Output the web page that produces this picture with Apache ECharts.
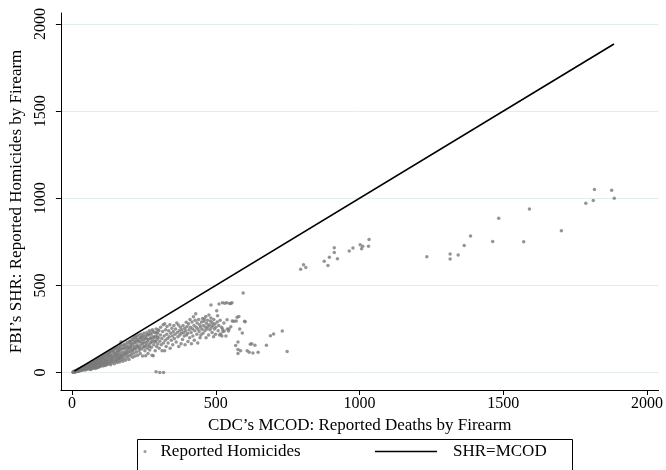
<!DOCTYPE html>
<html>
<head>
<meta charset="utf-8">
<script src="https://cdn.jsdelivr.net/npm/echarts@6/dist/echarts.min.js"></script>
<style>
  html, body { margin: 0; padding: 0; background: #ffffff; }
  #chart { width: 666px; height: 470px; }
</style>
</head>
<body>
<div id="chart"></div>
<script>
// County pairs: [CDC MCOD firearm deaths, FBI SHR firearm homicides]
const smallCounties = [
  [3,2],[4,3],[5,4],[5,2],[6,5],[7,4],[7,6],[8,3],[8,7],[9,5],[10,8],[10,4],[11,6],[12,10],[12,7],[13,5],
  [14,11],[14,8],[15,12],[15,6],[16,9],[17,14],[17,10],[18,7],[19,15],[19,11],[20,17],[20,9],[21,13],[22,18],
  [22,8],[23,15],[24,20],[24,11],[25,17],[26,22],[26,13],[27,10],[28,24],[28,16],[29,19],[30,25],[30,12],[31,21],
  [32,27],[32,15],[33,18],[34,29],[34,23],[35,13],[36,30],[36,20],[37,26],[38,16],[38,32],[39,22],[40,34],[40,28],
  [41,18],[42,35],[42,24],[43,30],[44,20],[44,37],[45,27],[46,38],[46,15],[47,32],[48,22],[48,40],[49,28],[50,42],
  [50,35],[50,19],
  [51,30],[52,44],[53,25],[54,38],[55,46],[55,20],[56,33],[57,48],[58,28],[59,40],[60,50],[60,23],[61,35],[62,45],
  [63,30],[64,55],[64,18],[65,40],[66,48],[67,27],[68,58],[68,36],[69,44],[70,22],[70,52],[71,31],[72,60],[72,40],
  [73,47],[74,26],[75,63],[75,35],[76,54],[77,42],[78,30],[79,66],[79,50],[80,38],[81,24],[82,57],[82,45],[83,68],
  [84,33],[85,52],[86,40],[86,72],[87,28],[88,60],[89,47],[90,36],[90,75],[91,55],[92,30],[93,65],[94,43],[95,78],
  [95,50],[96,35],[97,60],[98,80],[98,45],[99,38],[100,70],[100,55],
  [58,50],[63,42],[66,58],[77,66],[84,74],[92,82],[97,88],[62,20],[85,30],[93,48]
];

const midCounties = [
  [102,42],[103,85],[104,62],[105,50],[106,90],[107,38],[108,70],[109,55],[110,95],[111,45],[112,78],[113,60],
  [114,40],[115,100],[116,68],[117,52],[118,85],[119,44],[120,105],[121,72],[122,58],[123,90],[124,48],[125,110],
  [126,65],[127,80],[128,52],[130,115],[131,95],[132,60],[133,75],[134,45],[135,120],[136,88],[137,68],[138,55],
  [140,100],[141,125],[142,78],[143,62],[145,130],[146,92],[147,50],[148,110],[149,70],[150,140],
  [104,96],[109,82],[113,102],[118,64],[122,112],[127,98],[129,120],[133,104],[138,128],[139,84],[144,115],
  [147,136],[152,102],[156,146],[160,124],[163,82],[166,136],[169,158],[173,100],[177,140],[181,162],[184,108],
  [187,145],[191,172],[193,118],[196,140],[199,180],[203,150],[206,168],[209,128],[213,185],[217,140],[220,175],
  [223,195],[227,150],[231,180],[235,140],[239,200],[243,170],[247,210],[251,150],[254,195],[258,170],[262,215],
  [265,190],[268,150],[271,225],[274,200],[277,175],[281,235],[285,200],[290,180],[293,230],[296,205],[299,245],
  [151,88],[152,65],[153,115],[154,75],[155,135],[156,98],[157,58],[158,122],[159,82],[160,105],[161,145],[162,70],
  [163,92],[164,128],[165,60],[166,112],[167,150],[168,85],[170,176],[170,100],[171,75],[172,135],[174,118],[175,90],
  [176,65],[178,155],[179,105],[180,80],[182,140],[183,120],[185,95],[186,70],[188,160],[189,110],[190,130],[192,85],
  [194,150],[195,100],[197,118],[198,75],[200,165],[200,135],
  [202,95],[203,180],[204,120],[206,145],[207,105],[208,190],[210,160],[211,88],[212,130],[214,200],[215,112],
  [216,170],[218,150],[219,95],[220,205],[221,135],[222,180],[224,118],[225,210],[226,160],[228,100],[229,190],
  [230,145],[232,215],[233,125],[234,175],[236,200],[237,110],[238,155],[240,220],[241,185],[242,135],[244,205],
  [245,95],[246,165],[248,190],[249,145],[250,225],
  [252,175],[253,125],[255,210],[256,96],[257,155],[259,195],[260,230],[261,140],[263,180],[264,110],[266,215],
  [267,160],[269,240],[270,130],[272,195],[273,170],[275,220],[276,145],[278,100],[279,245],[280,185],[282,96],
  [283,205],[284,160],[286,230],[288,175],[289,125],[291,210],[292,250],[294,150],[295,190],[297,225],[298,165],
  [300,200],[292,5],[305,1],[318,1]
];

const largeCounties = [
  [302,240],[303,140],[305,180],[307,215],[308,260],[310,160],[312,195],[313,125],[315,235],[317,275],[318,170],
  [320,210],[322,125],[322,280],[324,185],[325,245],[327,150],[329,220],[330,265],[332,195],[334,170],[336,240],
  [338,205],[340,275],[341,140],[343,225],[345,185],[347,255],[349,210],[350,160],
  [352,235],[354,270],[356,195],[358,220],[360,250],[362,175],[364,285],[366,230],[368,205],[370,273],[371,150],
  [373,240],[375,215],[377,260],[379,165],[380,225],[382,245],[384,190],[386,270],[388,230],[390,210],[392,255],
  [393,160],[395,240],[397,288],[398,215],[400,265],
  [402,225],[403,178],[405,280],[407,245],[409,200],[410,305],[412,260],[414,230],[415,165],[417,290],[419,250],
  [420,210],[422,320],[424,270],[425,185],[427,240],[428,300],[430,338],[432,260],[434,220],[435,285],[437,170],
  [438,250],[440,305],[442,235],[444,275],[445,200],[447,262],[448,215],[450,290],
  [452,248],[454,310],[455,225],[457,270],[459,295],[460,307],[462,240],[464,260],[465,322],[466,200],[468,282],
  [470,250],[471,300],[473,265],[475,215],[476,330],[478,275],[480,245],[482,295],[483,313],[483,388],[485,260],
  [487,230],[488,285],[490,270],[492,205],[493,305],[495,250],[497,280],[499,220],[500,260],
  [503,355],[505,290],[506,326],[508,240],[510,270],[511,394],[513,215],[515,300],[517,222],[520,260],[521,210],
  [523,400],[523,250],[525,235],[528,285],[529,238],[531,398],[535,210],[538,401],[539,303],[540,250],[544,238],
  [546,250],[548,397],[552,263],[552,397],[556,400],[557,296],
  [563,294],[569,156],[571,296],[574,317],[577,175],[577,132],[577,109],[580,321],[583,250],[586,125],[592,227],
  [595,457],[600,294],[602,292],[609,125],[616,117],[620,163],[625,165],[629,113],[636,157],[647,117],[676,157],
  [690,211],[701,221],[731,238],[748,121]
];

const metroCounties = [
  [795,593],[805,618],[813,603],[877,639],[890,614],[895,662],[912,716],[912,689],[923,653],[964,697],[977,714],
  [1002,733],[1011,725],[1007,710],[1031,725],[1033,764],
  [1234,664],[1315,680],[1315,651],[1343,674],[1364,729],[1386,783],[1463,752],[1484,885],[1571,751],[1591,939],
  [1702,814],[1787,971],[1813,987],[1817,1050],[1877,1046],[1886,1000]
];

// Equality line SHR = MCOD over the observed MCOD range
const parityRange = [8, 1885];

const xTicks = [0, 500, 1000, 1500, 2000];
const yTicks = [0, 500, 1000, 1500, 2000];

const homicidePoints = smallCounties.concat(midCounties, largeCounties, metroCounties);
const parityLine = parityRange.map(v => [v, v]);

const serif = '"Liberation Serif", "DejaVu Serif", serif';
const plain = v => String(v);

const chart = echarts.init(document.getElementById('chart'), null, { renderer: 'canvas' });

chart.setOption({
  backgroundColor: '#ffffff',
  animation: false,
  textStyle: { fontFamily: serif, color: '#000' },
  grid: { left: 59, right: 4, top: 13, bottom: 80, containLabel: false },
  xAxis: {
    type: 'value',
    min: -39,
    max: 2040,
    name: 'CDC\u2019s MCOD: Reported Deaths by Firearm',
    nameLocation: 'middle',
    nameGap: 20,
    nameTextStyle: { fontFamily: serif, fontSize: 17, color: '#000' },
    axisLine: { show: true, onZero: false, lineStyle: { color: '#000', width: 1 } },
    axisTick: { show: true, customValues: xTicks, length: 5, lineStyle: { color: '#000', width: 1 } },
    axisLabel: { customValues: xTicks, formatter: plain, fontFamily: serif, fontSize: 16, color: '#000', margin: 6 },
    splitLine: { show: false }
  },
  yAxis: {
    type: 'value',
    min: -100,
    max: 2063,
    name: 'FBI\u2019s SHR: Reported Homicides by Firearm',
    nameLocation: 'middle',
    nameRotate: 90,
    nameGap: 33,
    nameTextStyle: { fontFamily: serif, fontSize: 17, color: '#000' },
    axisLine: { show: true, onZero: false, lineStyle: { color: '#000', width: 1 } },
    axisTick: { show: true, customValues: yTicks, length: 5, lineStyle: { color: '#000', width: 1 } },
    axisLabel: { customValues: yTicks, formatter: plain, rotate: 90, fontFamily: serif, fontSize: 16, color: '#000', margin: 12 },
    splitLine: { show: true, lineStyle: { color: '#e3edf0', width: 1 } }
  },
  legend: [
    {
      data: [{ name: 'Reported Homicides', icon: 'circle' }],
      left: 143.5,
      top: 443,
      padding: 0,
      itemWidth: 3,
      itemHeight: 3,
      itemStyle: { color: '#7f7f7f' },
      textStyle: { fontFamily: serif, fontSize: 17, color: '#000', padding: [0, 0, 0, 9] }
    },
    {
      data: [{ name: 'SHR=MCOD', icon: 'rect' }],
      left: 375,
      top: 443,
      padding: 0,
      itemWidth: 62,
      itemHeight: 1.6,
      itemStyle: { color: '#000' },
      textStyle: { fontFamily: serif, fontSize: 17, color: '#000', padding: [0, 0, 0, 11] }
    }
  ],
  graphic: [
    {
      type: 'rect',
      shape: { x: 137.5, y: 439.5, width: 435, height: 40 },
      style: { fill: 'none', stroke: '#000', lineWidth: 1 },
      silent: true
    }
  ],
  series: [
    {
      name: 'Reported Homicides',
      type: 'scatter',
      data: homicidePoints,
      symbol: 'circle',
      symbolSize: 3.5,
      itemStyle: { color: '#7a7a7a' },
      z: 2
    },
    {
      name: 'SHR=MCOD',
      type: 'line',
      data: parityLine,
      symbol: 'none',
      lineStyle: { color: '#000', width: 1.6 },
      itemStyle: { color: '#000' },
      z: 3
    }
  ]
});
</script>
</body>
</html>
